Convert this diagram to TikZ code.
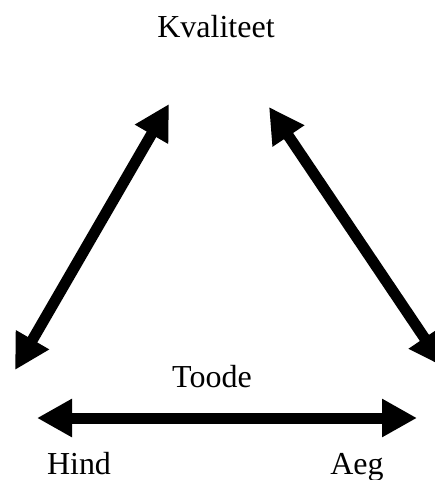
\documentclass[tikz,border=0pt]{standalone}
\usepackage{fontspec}
\setmainfont{Liberation Serif}
\usetikzlibrary{arrows.meta}
\tikzset{
  lbl/.style={anchor=base, inner sep=0pt, font=\fontsize{32}{38}\selectfont},
  bigarrow/.style={line width=11pt, {Triangle[length=35pt,width=36pt]}-{Triangle[length=35pt,width=36pt]}}
}
\begin{document}
\begin{tikzpicture}[x=1pt,y=-1pt]
\useasboundingbox (0,0) rectangle (435,480);
\node[lbl] (kval) at (216,37) {Kvaliteet};
\node[lbl] (toode) at (212,387) {Toode};
\node[lbl] (hind) at (79,474) {Hind};
\node[lbl] (aeg) at (357,474) {Aeg};
\coordinate (lt) at (169,104);
\coordinate (lb) at (15,370);
\coordinate (rt) at (269,107);
\coordinate (rb) at (444,367);
\coordinate (hl) at (37,418);
\coordinate (hr) at (417,418);
\draw[bigarrow] (lb) -- (lt);
\draw[bigarrow] (rt) -- (rb);
\draw[bigarrow] (hl) -- (hr);
\end{tikzpicture}
\end{document}
